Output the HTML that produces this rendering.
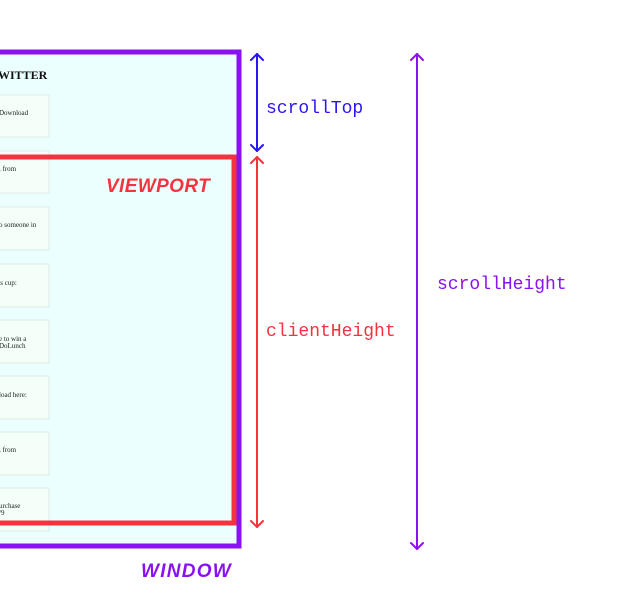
<!DOCTYPE html>
<html><head><style>
body{margin:0;background:#fff;}
svg{display:block}
.c{fill:#f3fff8;stroke:#dde8e4;stroke-width:1}
.t{font-family:"Liberation Serif",serif;font-size:7px;fill:#222}
.m{font-family:"Liberation Mono",monospace;font-size:18px}
.h{font-family:"Liberation Sans",sans-serif;font-weight:bold;font-style:italic;font-size:19px;letter-spacing:0.3px}
</style></head><body>
<svg width="639" height="592" viewBox="0 0 639 592" xmlns="http://www.w3.org/2000/svg">
<rect x="-10" y="52" width="249" height="494" fill="#ebffff"/>
<text x="-2" y="79" font-family="Liberation Serif,serif" font-weight="bold" font-size="12" fill="#111">WITTER</text>
<g>
<rect class="c" x="-10" y="95" width="59" height="42"/><text class="t" x="-1" y="115">Download</text>
<rect class="c" x="-10" y="151" width="59" height="42"/><text class="t" x="-1" y="171">, from</text>
<rect class="c" x="-10" y="207" width="59" height="43"/><text class="t" x="-1" y="227">o someone in</text>
<rect class="c" x="-10" y="264" width="59" height="43"/><text class="t" x="-1" y="285">'s cup:</text>
<rect class="c" x="-10" y="320" width="59" height="43"/><text class="t" x="-1" y="341">e to win a</text><text class="t" x="-1" y="348">DoLunch</text>
<rect class="c" x="-10" y="376" width="59" height="43"/><text class="t" x="-1" y="397">load here:</text>
<rect class="c" x="-10" y="432" width="59" height="43"/><text class="t" x="-1" y="452">, from</text>
<rect class="c" x="-10" y="488" width="59" height="43"/><text class="t" x="-1" y="508">urchase</text><text class="t" x="-1" y="515">/9</text>
</g>
<rect x="-10" y="52" width="249" height="494" fill="none" stroke="#8a12f0" stroke-width="5"/>
<rect x="-10" y="157" width="244" height="366" fill="none" stroke="#f5333f" stroke-width="5"/>
<text class="h" x="106" y="192" fill="#f5333f" textLength="104">VIEWPORT</text>
<text class="h" x="141" y="577" fill="#8a12f0" textLength="90">WINDOW</text>
<g fill="none" stroke-width="2" stroke-linecap="round" stroke-linejoin="round">
<g stroke="#2a16f0"><line x1="257" y1="54" x2="257" y2="151"/><polyline points="251,60 257,54 263,60"/><polyline points="251,145 257,151 263,145"/></g>
<g stroke="#f5333f"><line x1="257" y1="157" x2="257" y2="527"/><polyline points="251,163 257,157 263,163"/><polyline points="251,521 257,527 263,521"/></g>
<g stroke="#8a12f0"><line x1="417" y1="54" x2="417" y2="549"/><polyline points="411,60 417,54 423,60"/><polyline points="411,543 417,549 423,543"/></g>
</g>
<text class="m" x="266" y="113" fill="#2a16f0">scrollTop</text>
<text class="m" x="266" y="336" fill="#f5333f">clientHeight</text>
<text class="m" x="437" y="289" fill="#8a12f0">scrollHeight</text>
</svg>
</body></html>
